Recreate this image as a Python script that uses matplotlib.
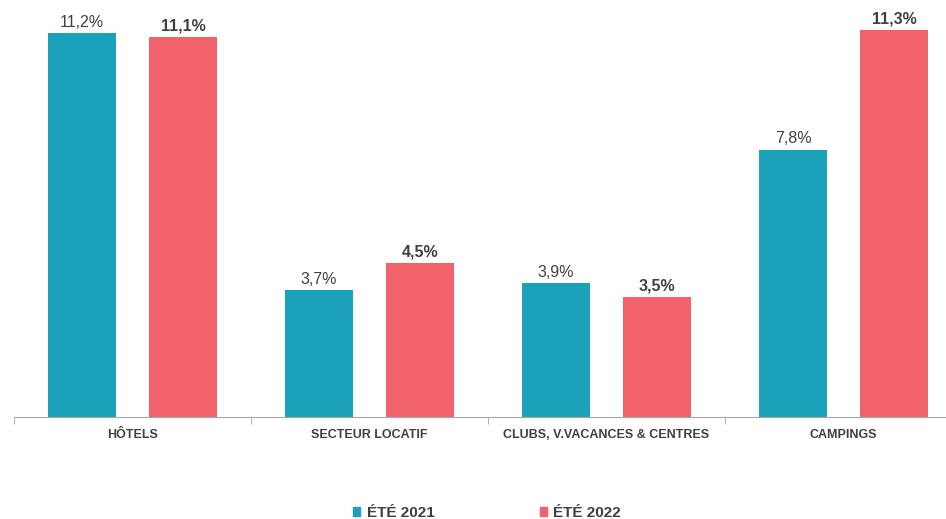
import matplotlib.pyplot as plt
import matplotlib.patches as mpatches
import numpy as np

plt.rcParams["font.family"] = ["Liberation Sans", "DejaVu Sans"]

categories = ["HÔTELS", "SECTEUR LOCATIF", "CLUBS, V.VACANCES & CENTRES", "CAMPINGS"]
ete_2021 = [11.2, 3.7, 3.9, 7.8]
ete_2022 = [11.1, 4.5, 3.5, 11.3]
series_names = ["ÉTÉ 2021", "ÉTÉ 2022"]

teal = "#1BA1BA"
red = "#F2626A"
txt = "#404040"

fig = plt.figure(figsize=(9.46, 5.19), dpi=100)
ax = fig.add_axes([14 / 946, 102 / 519, 948 / 946, 411 / 519])

x = np.arange(len(categories))
w = 0.283
off = 0.213

b1 = ax.bar(x - off, ete_2021, w, color=teal)
b2 = ax.bar(x + off, ete_2022, w, color=red)

for rect, v in zip(b1, ete_2021):
    ax.text(rect.get_x() + rect.get_width() / 2, v + 0.1, f"{v:.1f}%".replace(".", ","),
            ha="center", va="bottom", fontsize=11.5, color=txt)
for rect, v in zip(b2, ete_2022):
    ax.text(rect.get_x() + rect.get_width() / 2, v + 0.1, f"{v:.1f}%".replace(".", ","),
            ha="center", va="bottom", fontsize=11.5, color=txt, fontweight="bold")

ax.set_xlim(-0.5, len(categories) - 0.5)
ax.set_ylim(0, 12)
ax.set_xticks(x)
ax.set_xticklabels(categories, fontsize=9, fontweight="bold", color=txt)
ax.tick_params(axis="x", which="major", length=0, pad=9)
ax.set_xticks(np.arange(-0.5, len(categories)), minor=True)
ax.tick_params(axis="x", which="minor", length=5, color="#A6A6A6", direction="out")
ax.set_yticks([])
for s in ["top", "right", "left"]:
    ax.spines[s].set_visible(False)
ax.spines["bottom"].set_color("#A6A6A6")

handles = [mpatches.Patch(color=teal, label=series_names[0]),
           mpatches.Patch(color=red, label=series_names[1])]
leg = fig.legend(handles=handles, loc="center", bbox_to_anchor=(487 / 946, 6 / 519),
                 ncol=2, frameon=False, handlelength=0.5, handleheight=0.5,
                 handletextpad=0.4, columnspacing=6.9,
                 prop={"size": 11, "weight": "bold"})
for t in leg.get_texts():
    t.set_color(txt)

fig.savefig("out.png", dpi=100)
